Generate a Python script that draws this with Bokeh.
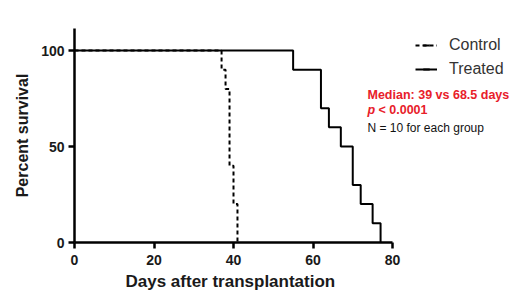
from bokeh.plotting import figure
from bokeh.models import Label, Legend, LegendItem, FixedTicker, Range1d, Title
from bokeh.embed import file_html
from bokeh.resources import INLINE
import math

# Data
control_days = [0, 37, 38, 39, 40, 41]
control_surv = [100, 90, 80, 40, 20, 0]
treated_days = [0, 55, 62, 64, 67, 70, 72, 75, 77]
treated_surv = [100, 90, 70, 60, 50, 30, 20, 10, 0]
x_ticks = [0, 20, 40, 60, 80]
y_ticks = [0, 50, 100]
series_names = ["Control", "Treated"]
median_text = "Median: 39 vs 68.5 days"
p_text = "< 0.0001"
n_text = "N = 10 for each group"
x_label = "Days after transplantation"
y_label = "Percent survival"

FONT = "Liberation Sans"
PX_PER_DAY = 3.975
LEFT = 74
RIGHT_BORDER = 2
x_end = (520 - RIGHT_BORDER - LEFT) / PX_PER_DAY

p = figure(width=520, height=301, output_backend="svg", toolbar_location=None,
           x_range=Range1d(0, x_end), y_range=Range1d(0, 111.5))
p.min_border_left = LEFT
p.min_border_right = RIGHT_BORDER
p.min_border_top = 28
p.min_border_bottom = 59
p.outline_line_color = None
p.grid.visible = False
p.background_fill_color = "white"
p.border_fill_color = "white"

for ax in (p.xaxis[0], p.yaxis[0]):
    ax.axis_line_width = 2.5
    ax.axis_line_color = "black"
    ax.major_tick_line_width = 2.5
    ax.major_tick_line_color = "black"
    ax.major_tick_out = 6
    ax.major_tick_in = 0
    ax.minor_tick_line_color = None
    ax.major_label_text_font = FONT
    ax.major_label_text_font_style = "bold"
    ax.major_label_text_font_size = "14px"
    ax.major_label_text_color = "#1a1a1a"
    ax.axis_label_text_font = FONT
    ax.axis_label_text_font_style = "bold"
    ax.axis_label_text_color = "#1a1a1a"

p.xaxis[0].bounds = (0, 80)
p.yaxis[0].axis_label_text_font_size = "16px"
p.xaxis[0].ticker = FixedTicker(ticks=x_ticks)
p.yaxis[0].ticker = FixedTicker(ticks=y_ticks)
p.yaxis[0].axis_label = y_label
p.xaxis[0].major_label_standoff = 6
p.yaxis[0].major_label_standoff = 4
p.yaxis[0].axis_label_standoff = 7

xt = Title(text=x_label, align="left", offset=51, text_font=FONT, text_font_style="bold",
           text_font_size="17px", text_color="#1a1a1a", standoff=5)
p.add_layout(xt, "below")

r_treat = p.step(treated_days, treated_surv, mode="after", line_color="black", line_width=2)
r_ctrl = p.step(control_days, control_surv, mode="after", line_color="black", line_width=2,
                line_dash="4 3")

tick_c = p.scatter([-50], [-50], marker="dash", angle=math.pi / 2, size=6,
                   line_color="black", line_width=2)
tick_t = p.scatter([-50], [-50], marker="dash", angle=math.pi / 2, size=6,
                   line_color="black", line_width=2)

legend = Legend(items=[
    LegendItem(label=series_names[0], renderers=[r_ctrl, tick_c]),
    LegendItem(label=series_names[1], renderers=[r_treat, tick_t]),
], location=(341, 164))
legend.border_line_color = None
legend.background_fill_alpha = 0
legend.padding = 0
legend.margin = 0
legend.spacing = 6
legend.glyph_width = 22
legend.glyph_height = 16
legend.label_height = 16
legend.label_standoff = 12
legend.label_text_font = FONT
legend.label_text_font_size = "16px"
legend.label_text_color = "#333333"
p.add_layout(legend, "center")

def dx(px):
    return (px - LEFT) / PX_PER_DAY

def dy(py):
    return (241.7 - py) / 1.917

RED = "#e8202a"
p.add_layout(Label(x=dx(367), y=dy(94), text=median_text, text_font=FONT, text_font_style="bold",
                   text_font_size="12.5px", text_color=RED, text_baseline="middle"))
p.add_layout(Label(x=dx(367), y=dy(109), text="p", text_font=FONT, text_font_style="bold italic",
                   text_font_size="12.5px", text_color=RED, text_baseline="middle"))
p.add_layout(Label(x=dx(378), y=dy(109), text=p_text, text_font=FONT, text_font_style="bold",
                   text_font_size="12.5px", text_color=RED, text_baseline="middle"))
p.add_layout(Label(x=dx(367), y=dy(127), text=n_text, text_font=FONT,
                   text_font_size="12px", text_color="#111111", text_baseline="middle"))

open("out.html", "w").write(file_html(p, INLINE))
